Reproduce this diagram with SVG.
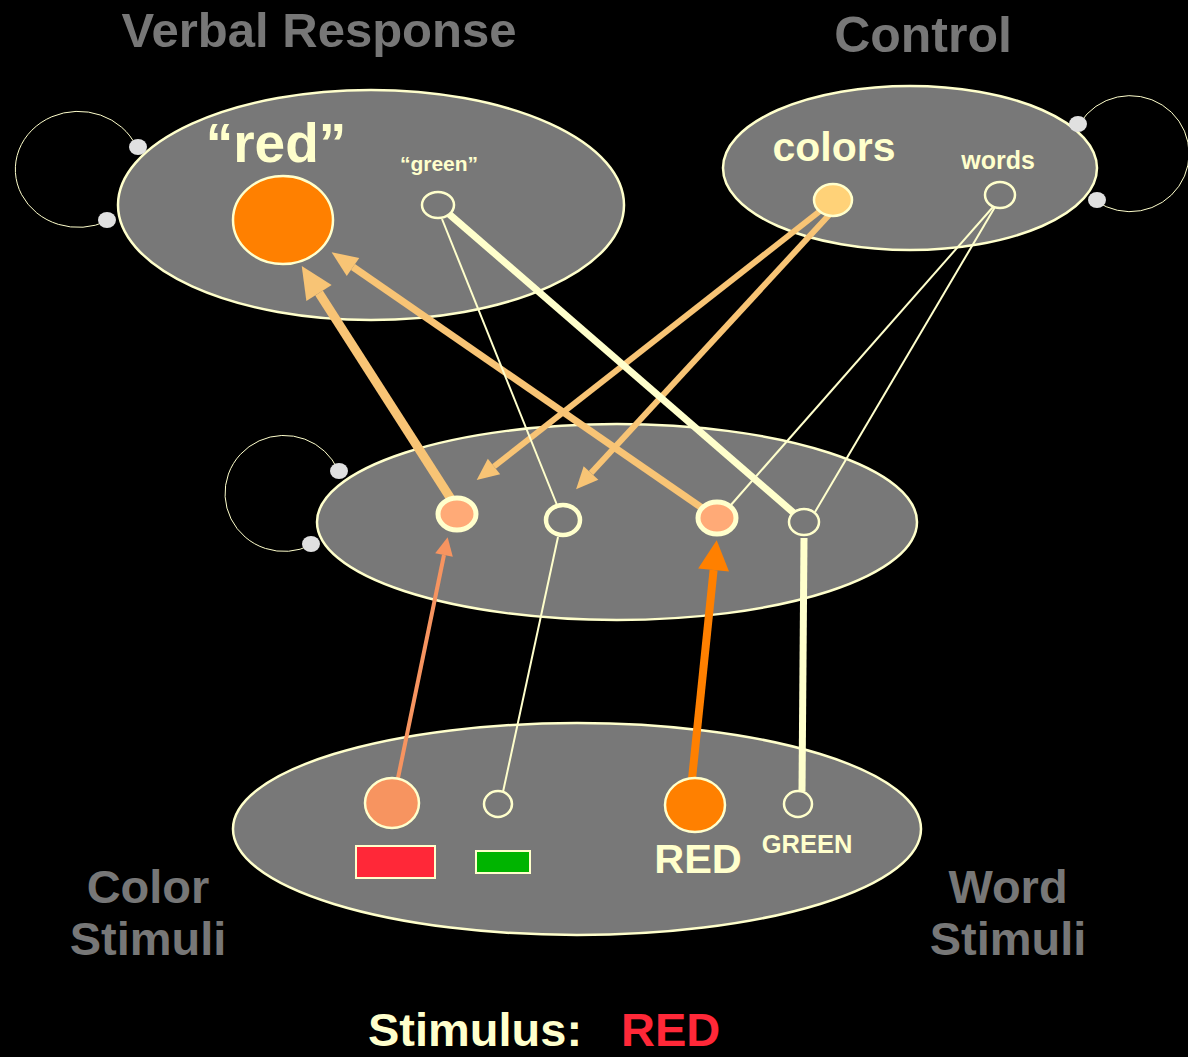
<svg xmlns="http://www.w3.org/2000/svg" width="1188" height="1057" viewBox="0 0 1188 1057">
  <style>
    .layer { fill: #787878; stroke: #ffffcc; stroke-width: 2.5; }
    .title { font-family: "Liberation Sans", Arial, sans-serif; font-weight: bold; fill: #777777; }
    .lbl { font-family: "Liberation Sans", Arial, sans-serif; font-weight: bold; fill: #ffffcc; }
    .loop { fill: none; stroke: #ffffcc; stroke-width: 1; }
    .dot { fill: #e0e0e0; }
    .open { fill: #787878; stroke: #ffffcc; stroke-width: 2.5; }
    .cream { stroke: #ffffcc; fill: none; }
    .peach { stroke: #f8c475; fill: none; }
  </style>
  <defs>
    <marker id="headBig" markerUnits="userSpaceOnUse" markerWidth="34" markerHeight="32" refX="0" refY="16" orient="auto" overflow="visible">
      <path d="M0,1 L32,16 L0,31 Z" fill="#f8c475"/>
    </marker>
    <marker id="headMid" markerUnits="userSpaceOnUse" markerWidth="28" markerHeight="26" refX="0" refY="12" orient="auto" overflow="visible">
      <path d="M0,1 L26,12 L0,23 Z" fill="#f8c475"/>
    </marker>
    <marker id="headSmall" markerUnits="userSpaceOnUse" markerWidth="24" markerHeight="22" refX="0" refY="10" orient="auto" overflow="visible">
      <path d="M0,0 L22,10 L0,20 Z" fill="#f8c475"/>
    </marker>
    <marker id="headSalmon" markerUnits="userSpaceOnUse" markerWidth="20" markerHeight="20" refX="0" refY="9" orient="auto" overflow="visible">
      <path d="M0,0 L18,9 L0,18 Z" fill="#f79460"/>
    </marker>
    <marker id="headOrange" markerUnits="userSpaceOnUse" markerWidth="32" markerHeight="32" refX="0" refY="15.5" orient="auto" overflow="visible">
      <path d="M0,0 L30,15.5 L0,31 Z" fill="#ff8000"/>
    </marker>
  </defs>

  <rect width="1188" height="1057" fill="#000000"/>

  <!-- layer titles -->
  <text class="title" x="319" y="47" font-size="49" text-anchor="middle">Verbal Response</text>
  <text class="title" x="923" y="52" font-size="50" text-anchor="middle">Control</text>
  <text class="title" x="148" y="903" font-size="47" text-anchor="middle">Color</text>
  <text class="title" x="148" y="955" font-size="47" text-anchor="middle">Stimuli</text>
  <text class="title" x="1008" y="903" font-size="47" text-anchor="middle">Word</text>
  <text class="title" x="1008" y="955" font-size="47" text-anchor="middle">Stimuli</text>

  <!-- recurrent loops -->
  <g id="loops">
    <path class="loop" d="M136,146 A63,58 0 1 0 107,221"/>
    <path class="loop" d="M1080,123 A59,58 0 1 1 1096,201"/>
    <path class="loop" d="M338,470 A59,58 0 1 0 311,545"/>
  </g>

  <!-- layers -->
  <g id="layer-response"><ellipse class="layer" cx="371" cy="205" rx="253" ry="115"/></g>
  <g id="layer-control"><ellipse class="layer" cx="910" cy="168" rx="187" ry="82"/></g>
  <g id="layer-hidden"><ellipse class="layer" cx="617" cy="522" rx="300" ry="98"/></g>
  <g id="layer-stimuli"><ellipse class="layer" cx="577" cy="829" rx="344" ry="106"/></g>

  <g id="loop-dots">
    <ellipse class="dot" cx="138" cy="147" rx="9" ry="8"/>
    <ellipse class="dot" cx="107" cy="220" rx="9" ry="8"/>
    <ellipse class="dot" cx="1078" cy="124" rx="9" ry="8"/>
    <ellipse class="dot" cx="1097" cy="200" rx="9" ry="8"/>
    <ellipse class="dot" cx="339" cy="471" rx="9" ry="8"/>
    <ellipse class="dot" cx="311" cy="544" rx="9" ry="8"/>
  </g>

  <!-- connections -->
  <g id="connectors">
    <!-- control units to hidden units -->
    <line class="peach" x1="820" y1="211" x2="494" y2="466.5" stroke-width="6" marker-end="url(#headSmall)"/>
    <line class="peach" x1="829" y1="215" x2="591" y2="473" stroke-width="6" marker-end="url(#headSmall)"/>
    <line class="cream" x1="993" y1="207" x2="730" y2="506" stroke-width="2"/>
    <line class="cream" x1="995" y1="207" x2="815" y2="512" stroke-width="2"/>
    <!-- hidden units to response units -->
    <line class="peach" x1="451" y1="499" x2="319" y2="293" stroke-width="9" marker-end="url(#headBig)"/>
    <line class="peach" x1="702" y1="508" x2="353" y2="267" stroke-width="7" marker-end="url(#headMid)"/>
    <line class="cream" x1="449" y1="214" x2="795" y2="514" stroke-width="7"/>
    <line class="cream" x1="442" y1="219" x2="557" y2="505" stroke-width="2"/>
    <!-- stimulus units to hidden units -->
    <line x1="398" y1="778" x2="444" y2="555" stroke="#f79460" stroke-width="4" marker-end="url(#headSalmon)"/>
    <line x1="503" y1="792" x2="558" y2="537" class="cream" stroke-width="2"/>
    <line x1="692" y1="779" x2="713.6" y2="570" stroke="#ff8000" stroke-width="8" marker-end="url(#headOrange)"/>
    <line x1="802" y1="791" x2="804" y2="538" class="cream" stroke-width="7"/>
  </g>

  <!-- response units -->
  <g id="node-red-response">
    <text class="lbl" x="276" y="162" font-size="55" text-anchor="middle">“red”</text>
    <ellipse cx="283" cy="220" rx="50" ry="44" fill="#ff8000" stroke="#ffffcc" stroke-width="2.5"/>
  </g>
  <g id="node-green-response">
    <text class="lbl" x="439" y="171" font-size="21" text-anchor="middle">“green”</text>
    <ellipse class="open" cx="438" cy="205" rx="16" ry="13"/>
  </g>

  <!-- control units -->
  <g id="node-colors">
    <text class="lbl" x="834" y="161" font-size="41" text-anchor="middle">colors</text>
    <ellipse cx="833" cy="200" rx="19" ry="16" fill="#ffd278" stroke="#ffffcc" stroke-width="2.5"/>
  </g>
  <g id="node-words">
    <text class="lbl" x="998" y="169" font-size="25" text-anchor="middle">words</text>
    <ellipse class="open" cx="1000" cy="195" rx="15" ry="13"/>
  </g>

  <!-- hidden units -->
  <g id="node-hidden-1"><ellipse cx="457" cy="514" rx="19" ry="16" fill="#ffaa77" stroke="#ffffcc" stroke-width="5"/></g>
  <g id="node-hidden-2"><ellipse cx="563" cy="520" rx="17" ry="15" fill="#787878" stroke="#ffffcc" stroke-width="4.5"/></g>
  <g id="node-hidden-3"><ellipse cx="717" cy="518" rx="19" ry="16" fill="#ffaa77" stroke="#ffffcc" stroke-width="5"/></g>
  <g id="node-hidden-4"><ellipse class="open" cx="804" cy="522" rx="15" ry="13"/></g>

  <!-- stimulus units -->
  <g id="node-color-red">
    <ellipse cx="392" cy="803" rx="27" ry="25" fill="#f79460" stroke="#ffffcc" stroke-width="2.5"/>
    <rect x="356" y="846" width="79" height="32" fill="#ff2838" stroke="#ffffcc" stroke-width="2"/>
  </g>
  <g id="node-color-green">
    <ellipse class="open" cx="498" cy="804" rx="14" ry="13"/>
    <rect x="476" y="851" width="54" height="22" fill="#00b400" stroke="#ffffcc" stroke-width="2"/>
  </g>
  <g id="node-word-red">
    <ellipse cx="695" cy="805" rx="30" ry="27" fill="#ff8000" stroke="#ffffcc" stroke-width="2.5"/>
    <text class="lbl" x="698" y="873" font-size="41.5" text-anchor="middle">RED</text>
  </g>
  <g id="node-word-green">
    <ellipse class="open" cx="798" cy="804" rx="14" ry="13"/>
    <text class="lbl" x="807" y="853" font-size="25.5" text-anchor="middle">GREEN</text>
  </g>

  <!-- caption -->
  <text x="368" y="1046" font-size="47" font-family="&quot;Liberation Sans&quot;, Arial, sans-serif" font-weight="bold" fill="#ffffcc">Stimulus:<tspan x="621" fill="#ff2838">RED</tspan></text>
</svg>
